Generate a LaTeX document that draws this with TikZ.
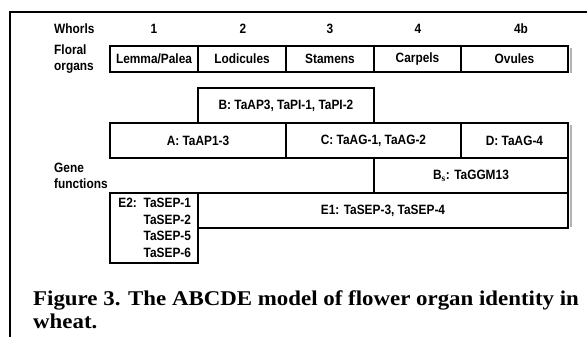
\documentclass[tikz,border=0pt]{standalone}
\usepackage{fontspec}
\setmainfont{Liberation Serif}
\setsansfont{Liberation Sans}[FakeStretch=0.88]
\newfontfamily\captfont{Liberation Serif}[FakeStretch=1.09]
\usetikzlibrary{positioning}

\begin{document}
\begin{tikzpicture}[x=1pt, y=-1pt,
  lbl/.style={font=\sffamily\bfseries\fontsize{13.5}{16}\selectfont, inner sep=0pt},
  cell/.style={lbl, draw, line width=1.6pt, minimum height=26pt},
  gene/.style={cell, minimum height=35pt},
  capt/.style={font=\captfont\bfseries\fontsize{21}{24}\selectfont, inner sep=0pt, anchor=base west}]
  \useasboundingbox (0,0) rectangle (587,337);
  % rand van de figuur
  \draw[line width=1.4pt] (10,337) -- (10,12) -- (587,12);
  % kopregel
  \node[lbl, anchor=west] (whorls) at (54,29) {Whorls};
  \node[lbl] (w1) at (154,29) {1};
  \node[lbl] (w2) at (243,29) {2};
  \node[lbl] (w3) at (330,29) {3};
  \node[lbl] (w4) at (418,29) {4};
  \node[lbl] (w4b) at (521,29) {4b};
  % bloemorganen
  \node[lbl, anchor=west, align=left] (floral) at (54,59) {Floral\\organs};
  \draw[gray!60, line width=2pt] (570.5,48) -- (570.5,73);
  \node[cell, minimum width=88pt] (lemma) at (154,59) {Lemma/Palea};
  \node[cell, minimum width=88pt] (lodic) at (242,59) {Lodicules};
  \node[cell, minimum width=88pt] (stamen) at (330,59) {Stamens};
  \node[cell, minimum width=87pt] (carpel) at (417.5,59) {Carpels};
  \node[cell, minimum width=107pt] (ovule) at (514.5,59) {Ovules};
  % genfuncties
  \node[lbl, anchor=west, align=left] (genefn) at (54,176) {Gene\\functions};
  \draw[gray!60, line width=2pt] (570.5,125) -- (570.5,227);
  \node[gene, minimum width=176pt] (fnB) at (286,105.5) {B: TaAP3, TaPI-1, TaPI-2};
  \node[gene, minimum width=176pt] (fnA) at (198,140.5) {A: TaAP1-3};
  \node[gene, minimum width=175pt] (fnC) at (373.5,140.5) {C: TaAG-1, TaAG-2};
  \node[gene, minimum width=107pt] (fnD) at (514.5,140.5) {D: TaAG-4};
  \node[gene, minimum width=194pt] (fnBs) at (471,175.5) {B$_\mathbf{s}$: TaGGM13};
  \node[gene, minimum width=370pt] (fnE1) at (383,210.5) {E1: TaSEP-3, TaSEP-4};
  \node[gene, minimum height=70pt, text width=74pt, inner xsep=7pt,
        align=right, font=\sffamily\bfseries\fontsize{13.5}{16.5}\selectfont] (fnE2) at (154,228)
        {E2: TaSEP-1\\TaSEP-2\\TaSEP-5\\TaSEP-6};
  % onderschrift
  \node[capt] (cap1) at (33,305) {Figure 3. The ABCDE model of flower organ identity in};
  \node[capt] (cap2) at (33,328) {wheat.};
\end{tikzpicture}
\end{document}
